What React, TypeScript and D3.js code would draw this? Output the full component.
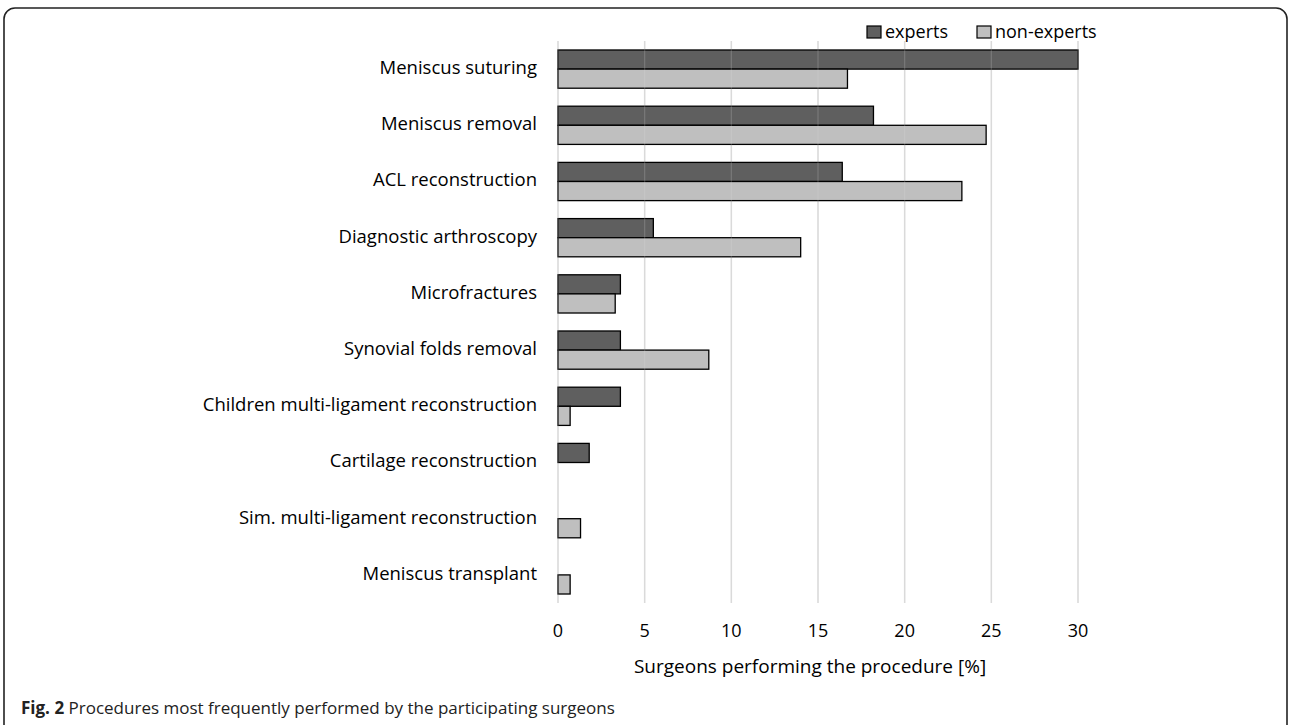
import React from "react";
import * as d3 from "d3";

const categories = [
  "Meniscus suturing",
  "Meniscus removal",
  "ACL reconstruction ",
  "Diagnostic arthroscopy",
  "Microfractures",
  "Synovial folds removal",
  "Children multi-ligament reconstruction",
  "Cartilage reconstruction",
  "Sim. multi-ligament reconstruction",
  "Meniscus transplant",
];
const experts = [30, 18.2, 16.4, 5.5, 3.6, 3.6, 3.6, 1.8, 0, 0];
const nonExperts = [16.7, 24.7, 23.3, 14.0, 3.3, 8.7, 0.7, 0, 1.3, 0.7];
const xTicks = [0, 5, 10, 15, 20, 25, 30];
const seriesNames = ["experts", "non-experts"];
const seriesColors = ["#5f5f5f", "#bfbfbf"];
const xTitle = "Surgeons performing the procedure [%]";
const captionBold = "Fig. 2";
const captionText = " Procedures most frequently performed by the participating surgeons";

const W = 1290;
const H = 725;
const plotLeft = 558;
const plotRight = 1078;
const plotTop = 41;
const plotBottom = 603;
const font = "'Open Sans', sans-serif";

export default function App() {
  const x = d3.scaleLinear().domain([0, 30]).range([plotLeft, plotRight]);
  const y = d3
    .scaleBand<string>()
    .domain(categories)
    .range([plotTop, plotBottom])
    .paddingInner(0.32)
    .paddingOuter(0.16);
  const sub = d3.scaleBand<string>().domain(seriesNames).range([0, y.bandwidth()]);
  const series = [experts, nonExperts];

  return (
    <svg
      width={W}
      height={H}
      style={{ position: "absolute", left: 0, top: 0, background: "#fff" }}
    >
      <rect x={4} y={8} width={1283} height={760} rx={11} ry={11} fill="#fff" stroke="#222" strokeWidth={1.6} />
      {xTicks.map((t) => (
        <line key={"g" + t} x1={x(t)} x2={x(t)} y1={plotTop} y2={plotBottom} stroke="#d9d9d9" strokeWidth={1.5} />
      ))}
      {categories.map((c, i) => (
        <g key={c}>
          {series.map((vals, s) =>
            vals[i] > 0 ? (
              <rect
                key={s}
                x={x(0)}
                y={(y(c) as number) + (sub(seriesNames[s]) as number)}
                width={x(vals[i]) - x(0)}
                height={sub.bandwidth()}
                fill={seriesColors[s]}
                stroke="#000"
                strokeWidth={1.3}
              />
            ) : null
          )}
          <text
            x={plotLeft - 21}
            y={(y(c) as number) + y.bandwidth() / 2}
            textAnchor="end"
            dominantBaseline="middle"
            fontFamily={font}
            fontSize={18.5}
            fill="#000"
          >
            {c}
          </text>
        </g>
      ))}
      {xTicks.map((t) => (
        <line key={"o" + t} x1={x(t)} x2={x(t)} y1={plotTop} y2={plotBottom} stroke="#e0e0e0" strokeWidth={1.2} opacity={0.2} />
      ))}
      {xTicks.map((t) => (
        <text key={"t" + t} x={x(t)} y={632} textAnchor="middle" dominantBaseline="middle" fontFamily={font} fontSize={18} fill="#000">
          {t}
        </text>
      ))}
      <text x={(plotLeft + plotRight) / 2 - 8} y={668} textAnchor="middle" dominantBaseline="middle" fontFamily={font} fontSize={19} fill="#000">
        {xTitle}
      </text>
      {/* legend */}
      <g>
        <rect x={867} y={26} width={14} height={12} fill={seriesColors[0]} stroke="#000" strokeWidth={1.2} />
        <text x={885} y={33} dominantBaseline="middle" fontFamily={font} fontSize={18}>{seriesNames[0]}</text>
        <rect x={977} y={26} width={14} height={12} fill={seriesColors[1]} stroke="#000" strokeWidth={1.2} />
        <text x={995} y={33} dominantBaseline="middle" fontFamily={font} fontSize={18}>{seriesNames[1]}</text>
      </g>
      <text x={21} y={714} fontFamily={font} fontSize={17} fill="#222">
        <tspan fontWeight="bold">{captionBold}</tspan>
        <tspan>{captionText}</tspan>
      </text>
    </svg>
  );
}
